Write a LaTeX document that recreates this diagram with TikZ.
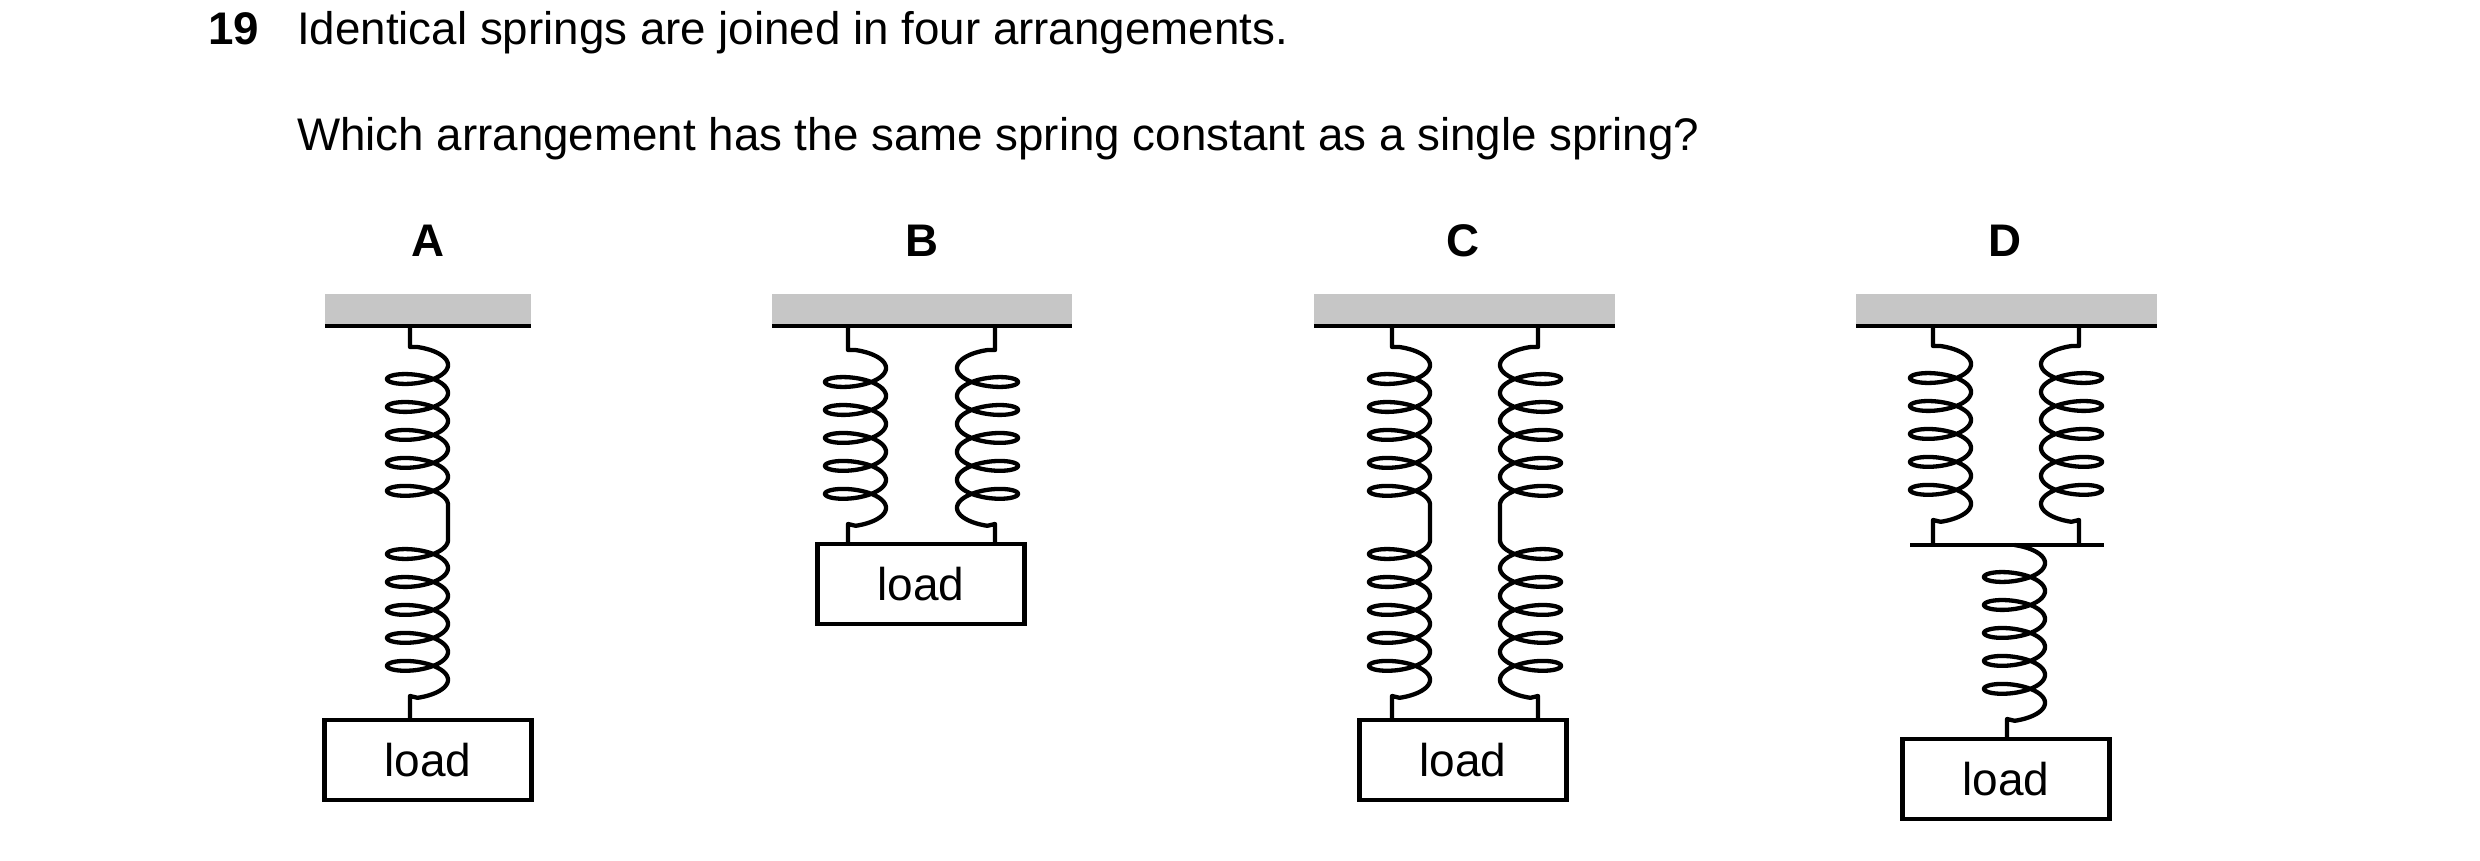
\documentclass[tikz,border=0pt]{standalone}
\usepackage{fontspec}
\setmainfont{Liberation Sans}
\begin{document}
\begin{tikzpicture}[x=1pt,y=-1pt,
  spr/.style={line width=4.3pt,line join=round},
  box/.style={draw,line width=4.3pt,minimum width=207pt,minimum height=80pt,inner sep=0pt,font=\fontsize{46}{52}\selectfont},
  lab/.style={font=\fontsize{45.7}{52}\selectfont\bfseries,anchor=base},
  txt/.style={font=\fontsize{45.7}{52}\selectfont,anchor=base west,inner sep=0pt}]
\useasboundingbox (0,0) rectangle (2480,861);
\def\kk{4.45}
\def\bb{11}
% coil: #1 axis x, #2 side sign, #3 first loop y, #4 t start, #5 t end, #6 path before, #7 path after
\newcommand\coil[7]{\draw[spr] #6 -- plot[domain=#4:#5,samples=500,smooth,variable=\t] ({#1+#2*(7.5+30.5*cos(\t r))},{#3-\kk*pi+\kk*\t+\bb*sin(\t r)}) -- #7;}
% full coil: #1 axis, #2 sign, #3 first loop y, #4 top y, #5 bottom y
\newcommand\fullcoil[5]{\coil{#1}{#2}{#3}{-0.5*pi}{10.5*pi}{(#1,#4) -- (#1,#3-32)}{(#1,#3+142) -- (#1,#5)}}
\newcommand\ceil[2]{\fill[gray!45] (#1,294) rectangle (#2,326); \draw[line width=4.3pt] (#1,326) -- (#2,326);}
% texts
\node[txt,font=\fontsize{45.7}{52}\selectfont\bfseries] (num) at (208,45) {19};
\node[txt] (t1) at (297,45) {Identical springs are joined in four arrangements.};
\node[txt] (t2) at (297,151) {Which arrangement has the same spring constant as a single spring?};
\node[lab] (lA) at (428,256) {A};
\node[lab] (lB) at (922,256) {B};
\node[lab] (lC) at (1463,256) {C};
\node[lab] (lD) at (2005,256) {D};
% ---- A
\ceil{325}{531}
\node[box,anchor=north] (boxA) at (428,718) {load};
\coil{410}{1}{379}{-0.5*pi}{10*pi}{(410,326) -- (410,347)}{(448,540)}
\coil{410}{1}{554}{0}{10.5*pi}{(448,540)}{(410,696) -- (boxA.north -| 410,0)}
% ---- B
\ceil{772}{1072}
\node[box,anchor=north] (boxB) at (921,542) {load};
\fullcoil{848}{1}{382}{326}{542}
\fullcoil{995}{-1}{382}{326}{542}
% ---- C
\ceil{1314}{1615}
\node[box,anchor=north] (boxC) at (1463,718) {load};
\coil{1392}{1}{379}{-0.5*pi}{10*pi}{(1392,326) -- (1392,347)}{(1430,540)}
\coil{1392}{1}{554}{0}{10.5*pi}{(1430,540)}{(1392,696) -- (boxC.north -| 1392,0)}
\coil{1538}{-1}{379}{-0.5*pi}{10*pi}{(1538,326) -- (1538,347)}{(1500,540)}
\coil{1538}{-1}{554}{0}{10.5*pi}{(1500,540)}{(1538,696) -- (boxC.north -| 1538,0)}
% ---- D
\ceil{1856}{2157}
\node[box,anchor=north] (boxD) at (2006,737) {load};
\draw[spr] (1910,545) -- (2104,545);
\fullcoil{1933}{1}{378}{326}{545}
\fullcoil{2079}{-1}{378}{326}{545}
\coil{2007}{1}{577}{-0.5*pi}{10.5*pi}{(2014.5,545)}{(2007,719) -- (boxD.north -| 2007,0)}
\end{tikzpicture}
\end{document}
